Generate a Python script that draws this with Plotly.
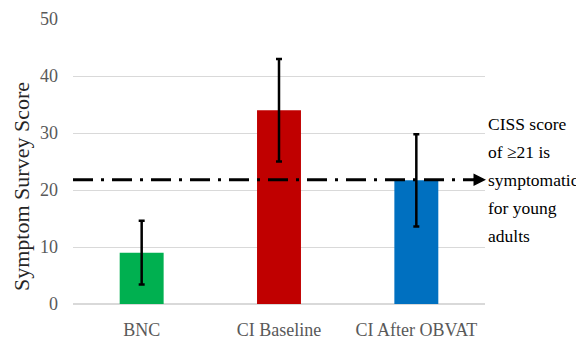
import plotly.graph_objects as go

categories = ["BNC", "CI Baseline", "CI After OBVAT"]
scores = [9.0, 34.0, 21.7]
errors = [5.6, 9.0, 8.1]
bar_colors = ["#00b050", "#c00000", "#0070c0"]
threshold = 21.8
y_ticks = [0, 10, 20, 30, 40, 50]
note_lines = ["CISS score", "of \u226521 is", "symptomatic", "for young", "adults"]

SERIF = "Liberation Serif, Times New Roman, serif"

# the page body adds an 8px margin; size the figure to fit the window
OFF = 8
W, H = 584 - OFF, 344 - OFF
# plot area in window pixels: x 73..485, y 19..304
PX0, PX1, PY0, PY1 = 73, 485, 19, 304
L, T = PX0 - OFF, PY0 - OFF
R, B = W - (PX1 - OFF), H - (PY1 - OFF)
pw = PX1 - PX0
ph = PY1 - PY0


def xp(px):
    return (px - PX0) / pw


def yp(py):
    return (PY1 - py) / ph


fig = go.Figure()
fig.add_trace(go.Bar(
    x=categories, y=scores, width=0.32,
    marker=dict(color=bar_colors, line=dict(width=0)),
    error_y=dict(type="data", array=errors, visible=True,
                 color="black", thickness=2.5, width=3),
    showlegend=False,
))

# threshold dash-dot line
fig.add_shape(type="line", xref="paper", yref="y",
              x0=0, x1=xp(477), y0=threshold, y1=threshold,
              line=dict(color="black", width=3, dash="20px,8px,3px,8px"))
fig.add_annotation(xref="paper", yref="y", x=xp(486), y=threshold,
                   ax=-14, ay=0, axref="pixel", ayref="pixel",
                   showarrow=True, arrowhead=2, arrowsize=1, arrowwidth=2.5,
                   arrowcolor="black", text="", standoff=0, startstandoff=0)

# note text lines
top_y = 124
step = 28
for i, line in enumerate(note_lines):
    fig.add_annotation(xref="paper", yref="paper",
                       x=xp(486), y=yp(top_y + i * step),
                       xanchor="left", yanchor="middle", showarrow=False,
                       text=line, font=dict(family=SERIF, size=17.5, color="black"))

# y axis title
fig.add_annotation(xref="paper", yref="paper", x=xp(21), y=yp(187),
                   xanchor="center", yanchor="middle", showarrow=False,
                   textangle=-90, text="Symptom Survey Score",
                   font=dict(family=SERIF, size=22, color="#262626"))

fig.update_layout(
    width=W, height=H,
    margin=dict(l=L, r=R, t=T, b=B, autoexpand=False),
    plot_bgcolor="white", paper_bgcolor="white",
    font=dict(family=SERIF, size=18, color="#595959"),
    xaxis=dict(showline=False, ticks="", ticklabelstandoff=13, automargin=False,
               tickfont=dict(family=SERIF, size=18, color="#595959")),
    yaxis=dict(range=[0, 50], tickvals=y_ticks, showgrid=True, automargin=False,
               gridcolor="#d9d9d9", gridwidth=1, zeroline=True,
               zerolinecolor="#d9d9d9", zerolinewidth=1.5, showline=False,
               ticks="", ticklabelstandoff=14,
               tickfont=dict(family=SERIF, size=18, color="#595959")),
)

fig.write_html("out.html")
